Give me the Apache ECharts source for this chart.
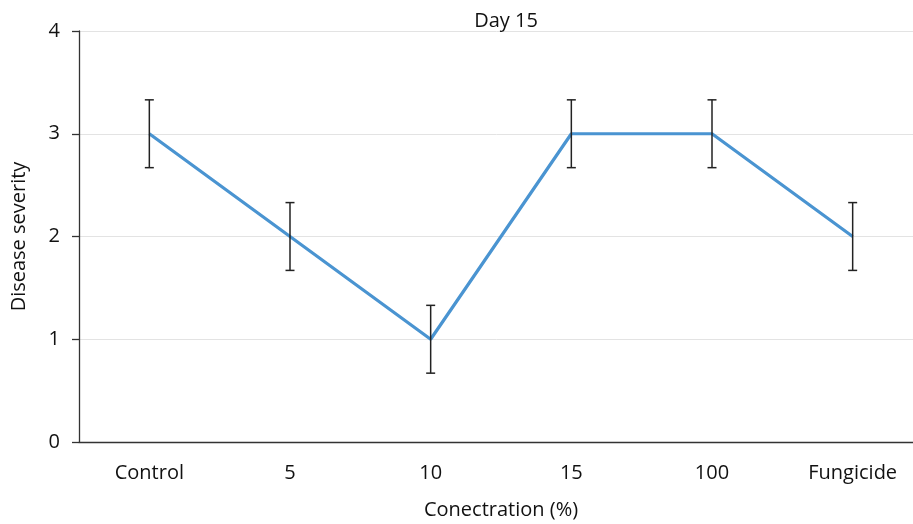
<!DOCTYPE html>
<html>
<head>
<meta charset="utf-8">
<script src="https://cdn.jsdelivr.net/npm/echarts@6/dist/echarts.min.js"></script>
<style>
  html, body { margin: 0; padding: 0; background: #fff; }
  #chart { width: 913px; height: 524px; }
</style>
</head>
<body>
<div id="chart"></div>
<script>
// Disease severity on day 15 for each treatment concentration
const categories = ['Control', '5', '10', '15', '100', 'Fungicide'];
const severity = [3, 2, 1, 3, 3, 2];
const stdError = [0.33, 0.33, 0.33, 0.33, 0.33, 0.33];
const yTicks = [0, 1, 2, 3, 4];

const FONT = '"Open Sans", "Noto Sans", sans-serif';
const FS = 20;
const errorData = severity.map((v, i) => [i, v - stdError[i], v + stdError[i]]);

const chart = echarts.init(document.getElementById('chart'));
chart.setOption({
  animation: false,
  title: {
    text: 'Day 15',
    left: 501,
    top: 6,
    textAlign: 'center',
    textStyle: { fontFamily: FONT, fontSize: FS, fontWeight: 'normal', color: '#111' }
  },
  grid: {
    left: 79, top: 31, width: 844, height: 411,
    containLabel: false,
    outerBoundsMode: 'none'
  },
  xAxis: {
    type: 'category',
    data: categories,
    name: 'Conectration (%)',
    nameLocation: 'middle',
    nameGap: 58,
    nameTextStyle: { fontFamily: FONT, fontSize: FS, color: '#111' },
    axisLine: { lineStyle: { color: '#333', width: 1.3 } },
    axisTick: { alignWithLabel: true, length: 6, lineStyle: { color: '#333', width: 1.5 } },
    axisLabel: { fontFamily: FONT, fontSize: FS, color: '#111', margin: 21 },
    splitLine: { show: false }
  },
  yAxis: {
    type: 'value',
    min: yTicks[0],
    max: yTicks[yTicks.length - 1],
    interval: 1,
    name: 'Disease severity',
    nameLocation: 'middle',
    nameGap: 50,
    nameTextStyle: { fontFamily: FONT, fontSize: FS, color: '#111' },
    axisLine: { show: true, lineStyle: { color: '#333', width: 1.3 } },
    axisTick: { show: true, length: 7, lineStyle: { color: '#333', width: 1.3 } },
    axisLabel: { fontFamily: FONT, fontSize: FS, color: '#111', margin: 19 },
    splitLine: { show: true, lineStyle: { color: '#e3e3e3', width: 1 } }
  },
  series: [
    {
      type: 'line',
      data: severity,
      symbol: 'none',
      lineStyle: { color: '#4a94d1', width: 3.2 },
      z: 2
    },
    {
      type: 'custom',
      data: errorData,
      z: 3,
      renderItem: function (params, api) {
        const x = api.value(0);
        const lo = api.coord([x, api.value(1)]);
        const hi = api.coord([x, api.value(2)]);
        const half = 4.5;
        const style = { stroke: '#222', lineWidth: 1.5 };
        return {
          type: 'group',
          children: [
            { type: 'line', shape: { x1: lo[0], y1: lo[1], x2: hi[0], y2: hi[1] }, style: style },
            { type: 'line', shape: { x1: hi[0] - half, y1: hi[1], x2: hi[0] + half, y2: hi[1] }, style: style },
            { type: 'line', shape: { x1: lo[0] - half, y1: lo[1], x2: lo[0] + half, y2: lo[1] }, style: style }
          ]
        };
      }
    }
  ]
});
</script>
</body>
</html>
